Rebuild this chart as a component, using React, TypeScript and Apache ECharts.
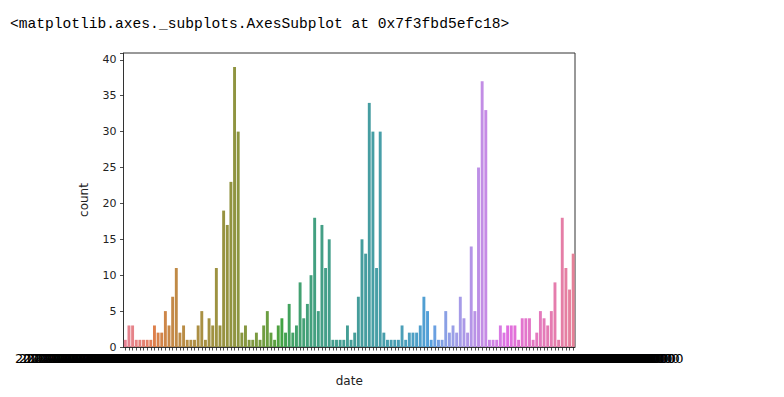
import React, { useEffect, useRef } from "react";
import * as echarts from "echarts";

// counts per date category (seaborn countplot)
const counts: number[] = [
  1, 3, 3, 1, 1, 1, 1, 1, 3, 2,
  2, 5, 3, 7, 11, 2, 3, 1, 1, 1,
  3, 5, 1, 4, 3, 11, 3, 19, 17, 23,
  39, 30, 2, 3, 1, 1, 2, 1, 3, 5,
  2, 1, 3, 4, 2, 6, 2, 3, 9, 4,
  6, 10, 18, 5, 17, 11, 15, 1, 1, 1,
  1, 3, 1, 2, 7, 15, 13, 34, 30, 11,
  30, 2, 1, 1, 1, 1, 3, 1, 2, 2,
  2, 3, 7, 5, 1, 3, 1, 1, 5, 2,
  3, 2, 7, 4, 2, 14, 5, 25, 37, 33,
  1, 1, 1, 3, 2, 3, 3, 3, 1, 4,
  4, 4, 1, 2, 5, 4, 3, 5, 9, 1,
  18, 11, 8, 13,
];

// date tick labels (unreadable in the picture: they overlap into a black band)
const startDate = "2020-01-22";
const dateLabels: string[] = counts.map((_, i) => {
  const d = new Date(startDate + "T00:00:00Z");
  d.setUTCDate(d.getUTCDate() + i);
  return d.toISOString().slice(0, 10) + "T00:00:00.000000000";
});

const yTicks: number[] = [0, 5, 10, 15, 20, 25, 30, 35, 40];
const headerText = "<matplotlib.axes._subplots.AxesSubplot at 0x7f3fbd5efc18>";

// ---- seaborn husl palette + desaturation ----
const M = [
  [3.2406, -1.5372, -0.4986],
  [-0.9689, 1.8758, 0.0415],
  [0.0557, -0.204, 1.057],
];
const refU = 0.19784, refV = 0.46834, labE = 0.008856, labK = 903.3;

function maxChroma(L: number, H: number) {
  const hrad = (H / 360) * 2 * Math.PI;
  const sinH = Math.sin(hrad), cosH = Math.cos(hrad);
  const sub1 = Math.pow(L + 16, 3) / 1560896;
  const sub2 = sub1 > labE ? sub1 : L / labK;
  let result = Infinity;
  for (const [m1, m2, m3] of M) {
    const top = (0.99915 * m1 + 1.05122 * m2 + 1.1446 * m3) * sub2;
    const rb = 0.8633 * m3 - 0.17266 * m2;
    const lb = 0.12949 * m3 - 0.38848 * m1;
    const bottom = (rb * sinH + lb * cosH) * sub2;
    for (const t of [0, 1]) {
      const C = (L * (top - 1.05122 * t)) / (bottom + 0.17266 * sinH * t);
      if (C > 0 && C < result) result = C;
    }
  }
  return result;
}
function fInv(t: number) {
  return Math.pow(t, 3) > labE ? Math.pow(t, 3) : (116 * t - 16) / labK;
}
function fromLinear(c: number) {
  return c <= 0.0031308 ? 12.92 * c : 1.055 * Math.pow(c, 1 / 2.4) - 0.055;
}
function huslToRgb(h: number, s: number, l: number): number[] {
  const C = (maxChroma(l, h) / 100) * s;
  const hrad = (h / 360) * 2 * Math.PI;
  const U = Math.cos(hrad) * C, V = Math.sin(hrad) * C;
  const varY = fInv((l + 16) / 116);
  const varU = U / (13 * l) + refU;
  const varV = V / (13 * l) + refV;
  const Y = varY;
  const X = -(9 * Y * varU) / ((varU - 4) * varV - varU * varV);
  const Z = (9 * Y - 15 * varV * Y - varV * X) / (3 * varV);
  return M.map((r) => Math.min(1, Math.max(0, fromLinear(r[0] * X + r[1] * Y + r[2] * Z))));
}
function rgbToHls(r: number, g: number, b: number) {
  const maxc = Math.max(r, g, b), minc = Math.min(r, g, b);
  const l = (maxc + minc) / 2;
  if (maxc === minc) return [0, l, 0];
  const s = l <= 0.5 ? (maxc - minc) / (maxc + minc) : (maxc - minc) / (2 - maxc - minc);
  const rc = (maxc - r) / (maxc - minc), gc = (maxc - g) / (maxc - minc), bc = (maxc - b) / (maxc - minc);
  let h;
  if (r === maxc) h = bc - gc;
  else if (g === maxc) h = 2 + rc - bc;
  else h = 4 + gc - rc;
  h = (((h / 6) % 1) + 1) % 1;
  return [h, l, s];
}
function hv(m1: number, m2: number, hue: number) {
  hue = ((hue % 1) + 1) % 1;
  if (hue < 1 / 6) return m1 + (m2 - m1) * hue * 6;
  if (hue < 0.5) return m2;
  if (hue < 2 / 3) return m1 + (m2 - m1) * (2 / 3 - hue) * 6;
  return m1;
}
function hlsToRgb(h: number, l: number, s: number) {
  if (s === 0) return [l, l, l];
  const m2 = l <= 0.5 ? l * (1 + s) : l + s - l * s;
  const m1 = 2 * l - m2;
  return [hv(m1, m2, h + 1 / 3), hv(m1, m2, h), hv(m1, m2, h - 1 / 3)];
}
function palette(n: number): string[] {
  const out: string[] = [];
  for (let i = 0; i < n; i++) {
    let h = i / n + 0.01;
    h = (h % 1) * 359;
    const rgb = huslToRgb(h, 0.9 * 99, 0.65 * 99);
    const [hh, ll, ss] = rgbToHls(rgb[0], rgb[1], rgb[2]);
    const d = hlsToRgb(hh, ll, ss * 0.75);
    out.push(
      "rgb(" + d.map((c) => Math.round(Math.min(1, Math.max(0, c)) * 255)).join(",") + ")"
    );
  }
  return out;
}

export default function App() {
  const ref = useRef<HTMLDivElement>(null);
  useEffect(() => {
    document.body.style.margin = "0";
    const chart = echarts.init(ref.current!, undefined, { renderer: "svg" });
    const colors = palette(counts.length);
    chart.setOption({
      animation: false,
      backgroundColor: "#fff",
      textStyle: { fontFamily: "DejaVu Sans" },
      graphic: [
        {
          type: "text",
          left: 10,
          top: 16,
          style: {
            text: headerText,
            font: '14.6px "Liberation Mono"',
            fill: "#000",
          },
        },
      ],
      grid: {
        left: 123.5,
        top: 53,
        right: 209,
        bottom: 50,
        show: true,
        borderColor: "#333",
        borderWidth: 1,
        backgroundColor: "transparent",
        containLabel: false,
      },
      xAxis: {
        type: "category",
        data: dateLabels,
        name: "date",
        nameLocation: "middle",
        nameGap: 28,
        nameTextStyle: { fontSize: 12, color: "#222", fontFamily: "DejaVu Sans" },
        axisLine: { show: true, lineStyle: { color: "#333", width: 1 } },
        axisTick: { show: true, alignWithLabel: true, interval: 0, length: 3.5, lineStyle: { color: "#222", width: 0.8 } },
        axisLabel: { interval: 0, margin: 5, fontSize: 13, color: "#000", fontFamily: "DejaVu Sans" },
        splitLine: { show: false },
      },
      yAxis: {
        type: "value",
        min: 0,
        max: 40.95,
        interval: 5,
        name: "count",
        nameLocation: "middle",
        nameGap: 34,
        nameRotate: 90,
        nameTextStyle: { fontSize: 12, color: "#222", fontFamily: "DejaVu Sans" },
        axisLine: { show: true, lineStyle: { color: "#333", width: 1 } },
        axisTick: { show: true, length: 3.5, lineStyle: { color: "#222", width: 0.8 } },
        axisLabel: {
          fontSize: 11,
          color: "#222",
          margin: 7,
          fontFamily: "DejaVu Sans",
          formatter: (v: number) => (yTicks.indexOf(v) >= 0 ? String(v) : ""),
        },
        splitLine: { show: false },
      },
      series: [
        {
          type: "bar",
          barCategoryGap: "20%",
          data: counts.map((v, i) => ({ value: v, itemStyle: { color: colors[i] } })),
        },
      ],
    });
    return () => chart.dispose();
  }, []);
  return <div ref={ref} style={{ width: 784, height: 397 }} />;
}
